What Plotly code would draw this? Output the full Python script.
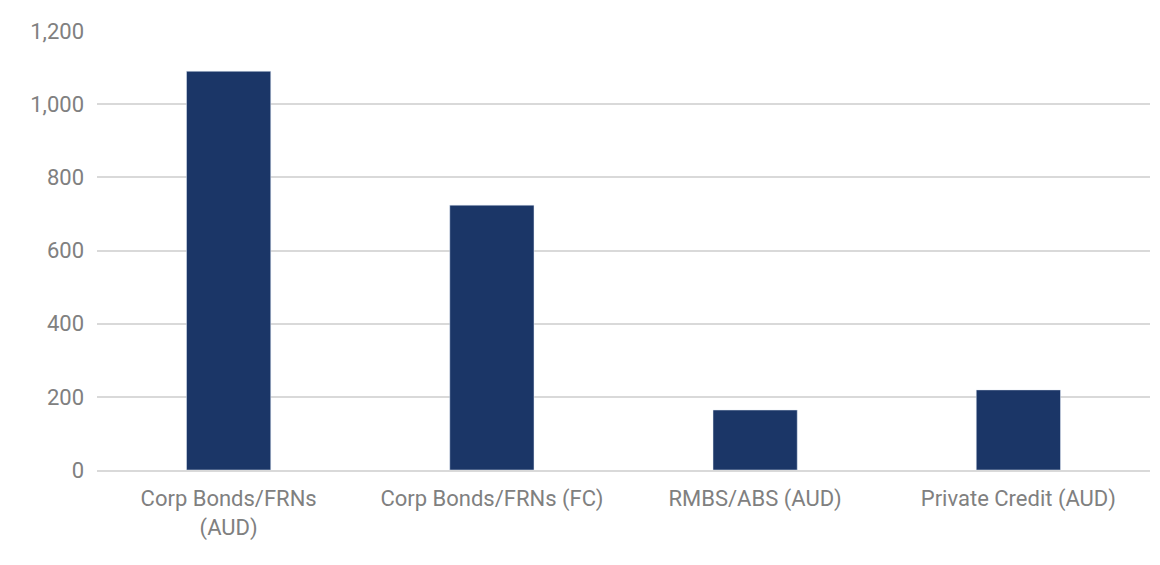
import plotly.graph_objects as go

categories = ["Corp Bonds/FRNs<br>(AUD)", "Corp Bonds/FRNs (FC)", "RMBS/ABS (AUD)", "Private Credit (AUD)"]
values = [1090, 724, 164, 219]

fig = go.Figure()
fig.add_bar(x=categories, y=values, marker_color="#1b3667")

fig.update_layout(
    width=1160,
    height=565,
    plot_bgcolor="white",
    paper_bgcolor="white",
    margin=dict(l=89, r=18, t=23, b=103),
    bargap=0.68,
    font=dict(family="Roboto", size=22, color="#808080"),
    showlegend=False,
)
fig.update_yaxes(
    range=[0, 1200],
    dtick=200,
    tickformat=",",
    gridcolor="#d9d9d9",
    gridwidth=2,
    zeroline=False,
    ticks="",
    ticklabelstandoff=12,
)
fig.update_xaxes(showline=True, linecolor="#d9d9d9", linewidth=2, ticklabelstandoff=8)

fig.write_html("out.html")
